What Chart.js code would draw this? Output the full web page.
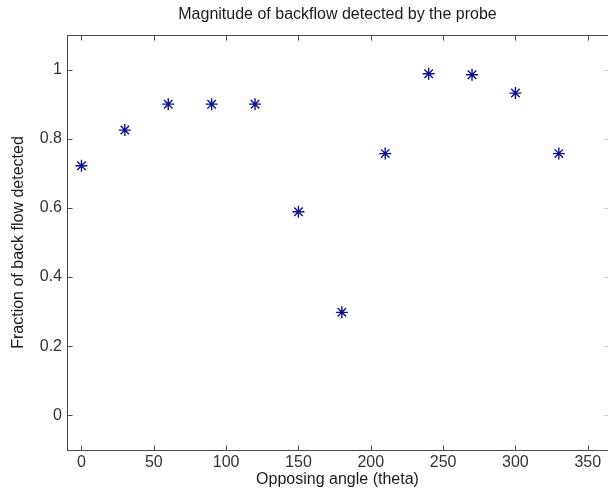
<!DOCTYPE html>
<html>
<head>
<meta charset="utf-8">
<script src="https://cdn.jsdelivr.net/npm/chart.js@4/dist/chart.umd.min.js"></script>
<style>
  html, body { margin: 0; padding: 0; background: #ffffff; overflow: hidden; }
  #wrap { width: 608px; height: 495px; }
</style>
</head>
<body>
<div id="wrap"><canvas id="c" width="608" height="495"></canvas></div>
<script>
// ---- data ----
const angles = [0, 30, 60, 90, 120, 150, 180, 210, 240, 270, 300, 330];
const fractions = [0.722, 0.825, 0.9, 0.9, 0.9, 0.589, 0.298, 0.757, 0.988, 0.985, 0.932, 0.757];
const xTicks = [0, 50, 100, 150, 200, 250, 300, 350];
const yTicks = [0, 0.2, 0.4, 0.6, 0.8, 1];
const xRange = [-10, 364];
const yRange = [-0.1, 1.1];
const titleText = 'Magnitude of backflow detected by the probe';
const xTitle = 'Opposing angle (theta)';
const yTitle = 'Fraction of back flow detected';

const FONT = "'Liberation Sans', Arial, sans-serif";
const AXIS_COLOR = '#4a4a4a';
const TEXT_COLOR = '#333333';

const frameAndTicks = {
  id: 'frameAndTicks',
  afterDraw(chart) {
    const ctx = chart.ctx;
    const a = chart.chartArea;
    const xs = chart.scales.x, ys = chart.scales.y;
    const L = Math.round(a.left) + 0.5, R = Math.round(a.right) + 0.5;
    const T = Math.round(a.top) + 0.5, B = Math.round(a.bottom) + 0.5;
    ctx.save();
    ctx.strokeStyle = AXIS_COLOR;
    ctx.lineWidth = 1;
    ctx.strokeRect(L, T, R - L, B - T);
    ctx.beginPath();
    const len = 5;
    xTicks.forEach(v => {
      const px = Math.round(xs.getPixelForValue(v)) + 0.5;
      ctx.moveTo(px, B); ctx.lineTo(px, B - len);
      ctx.moveTo(px, T); ctx.lineTo(px, T + len);
    });
    yTicks.forEach(v => {
      const py = Math.round(ys.getPixelForValue(v)) + 0.5;
      ctx.moveTo(L, py); ctx.lineTo(L + len, py);
    });
    ctx.stroke();
    ctx.strokeStyle = '#cfcfcf';
    ctx.beginPath();
    yTicks.forEach(v => {
      const py = Math.round(ys.getPixelForValue(v)) + 0.5;
      ctx.moveTo(R, py); ctx.lineTo(R - len, py);
    });
    ctx.stroke();
    ctx.restore();
  }
};

new Chart(document.getElementById('c'), {
  type: 'scatter',
  data: {
    datasets: [{
      data: angles.map((a, i) => ({ x: a, y: fractions[i] })),
      pointStyle: 'star',
      pointRadius: 6,
      pointHoverRadius: 6,
      borderWidth: 1.4,
      borderColor: '#10108f',
      backgroundColor: '#10108f',
      showLine: false
    }]
  },
  options: {
    responsive: false,
    animation: false,
    layout: { autoPadding: false, padding: { left: 0, right: 0, top: 0, bottom: 0 } },
    plugins: {
      legend: { display: false },
      tooltip: { enabled: false },
      title: {
        display: true,
        text: titleText,
        fullSize: false,
        color: '#1a1a1a',
        font: { family: FONT, size: 16, weight: 'normal' },
        padding: { top: 5.4, bottom: 10.4 }
      }
    },
    scales: {
      x: {
        type: 'linear',
        min: xRange[0],
        max: xRange[1],
        grid: { display: false, drawTicks: false },
        border: { display: false },
        afterBuildTicks: s => { s.ticks = xTicks.map(v => ({ value: v })); },
        afterFit: s => { s.height = 45; s.paddingLeft = 0; s.paddingRight = 0; },
        ticks: {
          color: TEXT_COLOR,
          padding: 3,
          maxRotation: 0,
          autoSkip: false,
          font: { family: FONT, size: 16 },
          callback: v => String(v)
        },
        title: {
          display: true,
          text: xTitle,
          color: '#1a1a1a',
          font: { family: FONT, size: 16 },
          padding: { top: 0, bottom: 6 }
        }
      },
      y: {
        type: 'linear',
        min: yRange[0],
        max: yRange[1],
        grid: { display: false, drawTicks: false },
        border: { display: false },
        afterBuildTicks: s => { s.ticks = yTicks.map(v => ({ value: v })); },
        afterFit: s => { s.width = 67; s.paddingTop = 0; s.paddingBottom = 0; },
        ticks: {
          color: TEXT_COLOR,
          padding: 5,
          autoSkip: false,
          font: { family: FONT, size: 16 },
          callback: v => String(Math.round(v * 10) / 10)
        },
        title: {
          display: true,
          text: yTitle,
          color: '#1a1a1a',
          font: { family: FONT, size: 16 },
          padding: { top: 9, bottom: 0 }
        }
      }
    }
  },
  plugins: [frameAndTicks]
});
</script>
</body>
</html>
